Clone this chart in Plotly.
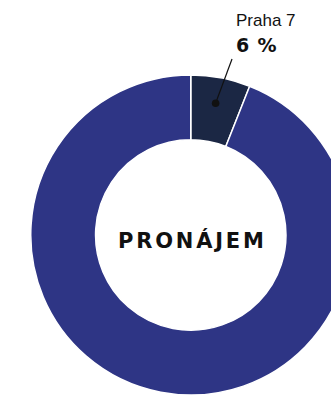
import numpy as np
import plotly.graph_objects as go

# Data
labels = ["Praha 7", "Ostatní"]
values = [6, 94]
colors = ["#1b2744", "#2e3585"]
center_label = "PRONÁJEM"
highlight = 0  # slice that gets the callout

# Canvas geometry (pixels); the ring runs past the right edge of the view
W, H = 351, 396
cx, cy, R = 190.5, 235.0, 160.0
hole = 0.595


def px(x):
    return x / W


def py(y):
    return 1 - y / H


fig = go.Figure(
    go.Pie(
        labels=labels,
        values=values,
        hole=hole,
        sort=False,
        direction="clockwise",
        rotation=0,
        marker=dict(colors=colors, line=dict(color="white", width=1.5)),
        textinfo="none",
        hoverinfo="label+percent",
        showlegend=False,
        domain=dict(x=[px(cx - R), 1], y=[py(cy + R), py(cy - R)]),
    )
)

# Callout dot placed at the middle of the highlighted slice
total = float(sum(values))
start = sum(values[:highlight]) / total * 360
theta = np.radians(start + values[highlight] / total * 360 / 2)
r_dot = 0.838 * R
dot_x = cx + r_dot * np.sin(theta)
dot_y = cy - r_dot * np.cos(theta)
line_end = (232.0, 59.0)
pct = round(100 * values[highlight] / total)

shapes = [
    dict(type="line", xref="paper", yref="paper",
         x0=px(dot_x), y0=py(dot_y), x1=px(line_end[0]), y1=py(line_end[1]),
         line=dict(color="#111111", width=1.2)),
    dict(type="circle", xref="paper", yref="paper",
         x0=px(dot_x - 3.8), x1=px(dot_x + 3.8),
         y0=py(dot_y + 3.8), y1=py(dot_y - 3.8),
         fillcolor="#111111", line=dict(width=0)),
]

annotations = [
    dict(text=labels[highlight], x=px(234), y=py(20.5), xref="paper", yref="paper",
         xanchor="left", yanchor="middle", showarrow=False,
         font=dict(family="Liberation Sans, Arial", size=17, color="#111111")),
    dict(text=f"<span style='letter-spacing:0.8px'><b>{pct} %</b></span>",
         x=px(234), y=py(45), xref="paper", yref="paper",
         xanchor="left", yanchor="middle", showarrow=False,
         font=dict(family="DejaVu Sans", size=19, color="#111111")),
    dict(text=f"<span style='letter-spacing:2.8px'><b>{center_label}</b></span>",
         x=px(cx + 1.5), y=py(240), xref="paper", yref="paper",
         xanchor="center", yanchor="middle", showarrow=False,
         font=dict(family="DejaVu Sans", size=21, color="#111111")),
]

fig.update_layout(
    width=W,
    height=H,
    margin=dict(l=0, r=0, t=0, b=0),
    paper_bgcolor="white",
    plot_bgcolor="white",
    shapes=shapes,
    annotations=annotations,
)

fig.write_html("out.html")
